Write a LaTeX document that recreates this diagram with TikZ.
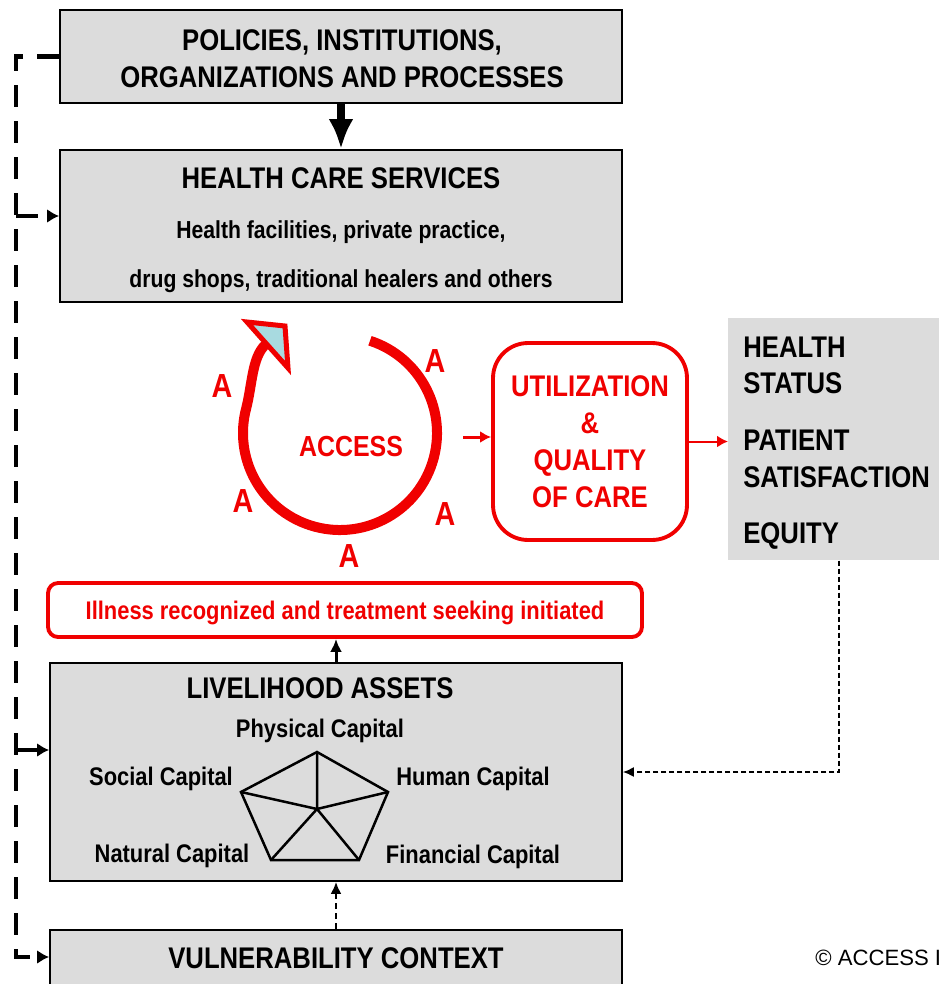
\documentclass[tikz,border=0pt]{standalone}
\usepackage{fontspec}
\setmainfont{Liberation Sans}[FakeStretch=0.86]
\newfontfamily\plainfont{Liberation Sans}
\usepackage{tikz}
\usetikzlibrary{arrows.meta, calc}
\definecolor{boxGray}{RGB}{220,220,220}
\definecolor{accessRed}{RGB}{240,0,0}
\definecolor{tipBlue}{RGB}{168,218,224}
\newcommand{\TitleFont}{\fontsize{17}{21}\selectfont\bfseries}
\newcommand{\SubFont}{\fontsize{14.5}{17}\selectfont\bfseries}
\tikzset{
  graybox/.style={draw=black, fill=boxGray, line width=1.1pt, inner sep=0pt},
  redbox/.style={draw=accessRed, line width=2.2pt, inner sep=0pt, text depth=0pt},
  boxtitle/.style={anchor=base, inner sep=0pt, font=\TitleFont},
  boxtext/.style={anchor=base, inner sep=0pt, font=\SubFont},
  accessA/.style={anchor=base, inner sep=0pt, text=accessRed, font=\fontsize{19}{22}\selectfont\bfseries},
  bigdash/.style={line width=2.8pt, dash pattern=on 0.44cm off 0.28cm, -{Latex[length=0.24cm, width=0.28cm]}},
}

\begin{document}
\begin{tikzpicture}[x=0.02cm, y=-0.02cm]

  \useasboundingbox (0,0) rectangle (939,984);
  \clip (0,0) rectangle (939,984);

  % boxes
  \node[graybox, minimum width=11.24cm, minimum height=1.86cm] (pol) at (341,56.5) {};
  \node[graybox, minimum width=11.24cm, minimum height=3.04cm] (hcs) at (341,226) {};
  \node[graybox, minimum width=11.44cm, minimum height=4.36cm] (liv) at (336,772) {};
  \node[graybox, minimum width=11.44cm, minimum height=2cm, anchor=north] (vul) at (336,929) {};
  \node[fill=boxGray, inner sep=0pt, minimum width=4.3cm, minimum height=4.84cm, anchor=north west] (outc) at (728,318) {};
  \node[redbox, rounded corners=0.7cm, minimum width=3.88cm, minimum height=3.94cm, align=center, text=accessRed, font=\TitleFont] (util) at (590,441.5) {UTILIZATION\\\&\\QUALITY\\OF CARE};
  \node[redbox, rounded corners=0.2cm, minimum width=11.88cm, minimum height=1.08cm, text=accessRed, font=\SubFont] (ill) at (345,610) {Illness recognized and treatment seeking initiated};

  % box texts
  \node[boxtitle] (pol1) at (342,50) {POLICIES, INSTITUTIONS,};
  \node[boxtitle] (pol2) at (342,87) {ORGANIZATIONS AND PROCESSES};
  \node[boxtitle] (hcs1) at (341,188) {HEALTH CARE SERVICES};
  \node[boxtext, font=\fontsize{14}{17}\selectfont\bfseries] (hcs2) at (341,238) {Health facilities, private practice,};
  \node[boxtext, font=\fontsize{14}{17}\selectfont\bfseries] (hcs3) at (341,287) {drug shops, traditional healers and others};
  \node[boxtitle] (liv1) at (320,698) {LIVELIHOOD ASSETS};
  \node[boxtext] (physical) at (320,737) {Physical Capital};
  \node[boxtext] (social) at (161,785) {Social Capital};
  \node[boxtext] (human) at (473,785) {Human Capital};
  \node[boxtext] (natural) at (172,862) {Natural Capital};
  \node[boxtext] (financial) at (473,863) {Financial Capital};
  \node[boxtitle] (vul1) at (336,968) {VULNERABILITY CONTEXT};
  \node[boxtitle, anchor=base west] (out1) at (743,357) {HEALTH};
  \node[boxtitle, anchor=base west] (out2) at (743,393) {STATUS};
  \node[boxtitle, anchor=base west] (out3) at (743,450) {PATIENT};
  \node[boxtitle, anchor=base west] (out4) at (743,487) {SATISFACTION};
  \node[boxtitle, anchor=base west] (out5) at (743,543) {EQUITY};

  % access loop
  \coordinate (loopC) at (340,433);
  \coordinate (loopEnd) at (265,345);
  \draw[accessRed, line width=0.2cm] ($(loopC)+(-72:97)$) arc[start angle=-72, end angle=195, radius=97]
    .. controls +(6,-24) and +(-13,13) .. (loopEnd);
  \filldraw[draw=accessRed, fill=tipBlue, line width=0.1cm] (247,322) -- (285,326) -- (288,368) -- cycle;
  \node[boxtitle, text=accessRed, font=\fontsize{16.5}{20}\selectfont\bfseries] (access) at (351,456) {ACCESS};
  \node[accessA] (a1) at (222,397) {A};
  \node[accessA] (a2) at (435,372) {A};
  \node[accessA] (a3) at (243,512) {A};
  \node[accessA] (a4) at (445,525) {A};
  \node[accessA] (a5) at (349,567) {A};

  % pentagon
  \coordinate (pTop) at (317,752);
  \coordinate (pRight) at (388,792);
  \coordinate (pBR) at (359,860);
  \coordinate (pBL) at (271,860);
  \coordinate (pLeft) at (241,792);
  \coordinate (pMid) at (317,809);
  \draw[line width=0.05cm] (pTop) -- (pRight) -- (pBR) -- (pBL) -- (pLeft) -- cycle;
  \draw[line width=0.05cm] (pMid) -- (pTop) (pMid) -- (pLeft) (pMid) -- (pRight) (pMid) -- (pBL) (pMid) -- (pBR);

  % connectors
  \draw[line width=0.16cm, -{Latex[length=0.6cm, width=0.5cm]}] (pol.south) -- (hcs.north);
  \draw[line width=0.06cm, -{Latex[length=0.26cm, width=0.24cm]}] (liv.north) -- (liv.north |- ill.south);
  \draw[line width=0.04cm, dash pattern=on 0.12cm off 0.08cm, -{Latex[length=0.24cm, width=0.22cm]}] (vul.north) -- (liv.south);
  \coordinate (accOut) at (463,437);
  \draw[accessRed, line width=0.06cm, -{Latex[length=0.22cm, width=0.24cm]}] (accOut) -- (accOut -| util.west);
  \draw[accessRed, line width=0.04cm, -{Latex[length=0.22cm, width=0.24cm]}] (util.east) -- (outc.west |- util.east);
  \coordinate (fb) at (839,773);
  \draw[line width=0.03cm, dash pattern=on 0.1cm off 0.06cm, -{Latex[length=0.22cm, width=0.2cm]}] (outc.south -| fb) |- (liv.east);

  % feedback bus on the left
  \coordinate (lbus) at (16,957);
  \coordinate (hbus) at (16,216);
  \coordinate (lvbus) at (16,750);
  \draw[bigdash] (pol.west) -| (lbus) -- (lbus -| vul.west);
  \draw[bigdash] (hbus) -- (hbus -| hcs.west);
  \draw[bigdash] (lvbus) -- (lvbus -| liv.west);

  \node[anchor=base west, inner sep=0pt, font=\plainfont\fontsize{12.6}{14}\selectfont] (copy) at (815,965) {\copyright{} ACCESS I};

\end{tikzpicture}
\end{document}
